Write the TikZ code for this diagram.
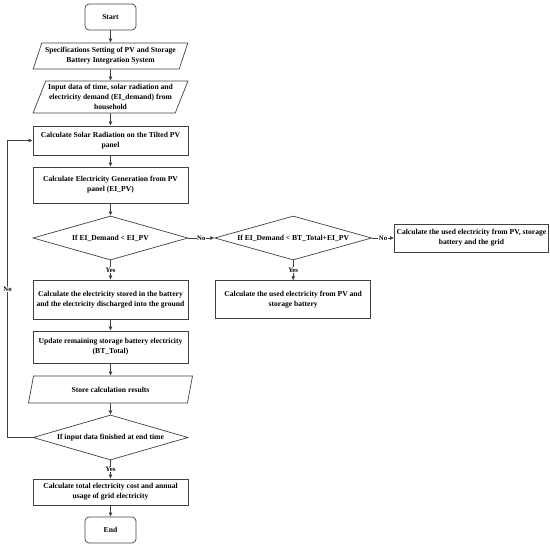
\documentclass[tikz,border=0pt]{standalone}
\usepackage{fontspec}
\setmainfont{Liberation Serif}
\definecolor{linegray}{RGB}{64, 64, 64}
\usetikzlibrary{arrows.meta, positioning, shapes.geometric}
\tikzset{
	flow/.style={rectangle, draw=linegray, line width=0.7pt, align=center, minimum width=155pt, inner xsep=1pt, inner ysep=0pt, font=\bfseries\fontsize{7.6}{10}\selectfont},
	terminal/.style={flow, rounded corners=4pt, minimum width=51pt, minimum height=26pt},
	io/.style={flow, trapezium, trapezium left angle=64, trapezium right angle=116, trapezium stretches=true},
	decision/.style={flow, diamond, aspect=3.5, minimum width=155pt, minimum height=44pt, inner sep=0pt},
	arrow/.style={-{Latex[length=4pt, width=4pt]}, line width=0.6pt, draw=linegray},
	tag/.style={fill=white, inner sep=0.6pt, font=\bfseries\fontsize{6.8}{8}\selectfont},
}

\begin{document}
\begin{tikzpicture}[x=1pt, y=1pt, node distance=12.5pt]
		\useasboundingbox (0,0) rectangle (550,-548);
		\node[terminal] (start) at (110.5,-17) {Start};
		\node[io, minimum height=26pt] (spec) at (110.5,-56) {Specifications Setting of PV and Storage\\Battery Integration System};
		\node[io, minimum height=32pt] (input) at (110.5,-97) {Input data of time, solar radiation and\\electricity demand (EI\_demand) from\\household};
		\node[flow, minimum height=29pt] (solar) at (110.5,-140.5) {Calculate Solar Radiation on the Tilted PV\\panel};
		\node[flow, minimum height=36pt] (gen) at (110.5,-185) {Calculate Electricity Generation from PV\\panel (EI\_PV)};
		\node[decision] (d1) at (110.5,-238) {If EI\_Demand < EI\_PV};
		\node[flow, minimum height=39pt] (stored) at (110.5,-299.5) {Calculate the electricity stored in the battery\\and the electricity discharged into the ground};
		\node[flow, minimum height=32pt] (update) at (110.5,-347) {Update remaining storage battery electricity\\(BT\_Total)};
		\node[io, minimum height=27pt, minimum width=165pt] (store) at (110.5,-389.5) {Store calculation results};
		\node[decision, minimum height=45pt] (d2) at (110.5,-437.5) {If input data finished at end time};
		\node[flow, minimum height=26pt] (total) at (110.5,-492) {Calculate total electricity cost and annual\\usage of grid electricity};
		\node[terminal] (end) at (110.5,-530) {End};
		% right branch
		\node[decision, right=26pt of d1, minimum width=157pt] (d3) {If EI\_Demand < BT\_Total+EI\_PV};
		\node[flow, right=22pt of d3, minimum width=154pt, minimum height=28pt] (grid) {Calculate the used electricity from PV, storage\\battery and the grid};
		\node[flow, below=20pt of d3, minimum height=38pt] (pvbat) {Calculate the used electricity from PV and\\storage battery};
		\draw[arrow] (start) -- (spec);
		\draw[arrow] (spec) -- (input);
		\draw[arrow] (input) -- (solar);
		\draw[arrow] (solar) -- (gen);
		\draw[arrow] (gen) -- (d1);
		\draw[arrow] (d1) -- node[tag] {Yes} (stored);
		\draw[arrow] (stored) -- (update);
		\draw[arrow] (update) -- (store);
		\draw[arrow] (store) -- (d2);
		\draw[arrow] (d2) -- node[tag] {Yes} (total);
		\draw[arrow] (total) -- (end);
		\draw[arrow] (d1) -- node[tag] {No} (d3);
		\draw[arrow] (d3) -- node[tag] {No} (grid);
		\draw[arrow] (d3) -- node[tag] {Yes} (pvbat);
		\draw[arrow] (d2.west) -- ++(-25,0) |- node[tag, pos=0.25] {No} (solar.west);
	\end{tikzpicture}
\end{document}
